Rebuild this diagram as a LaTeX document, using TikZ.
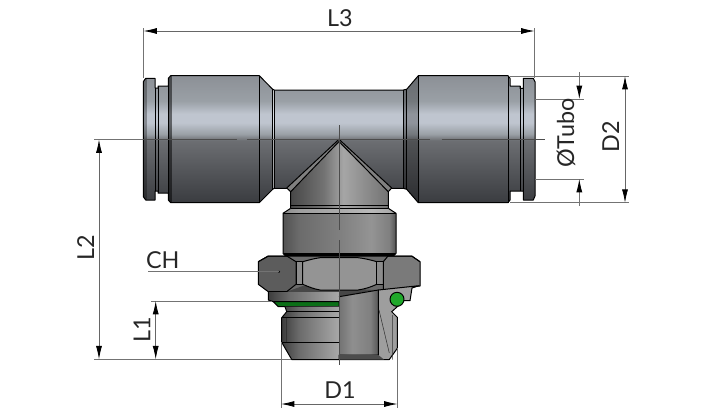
\documentclass[tikz,border=0pt]{standalone}
\usepackage{fontspec}
\setmainfont{Lato}
\usetikzlibrary{arrows.meta}
\definecolor{tubehi}{HTML}{BFC5CF}
\definecolor{tubeup}{HTML}{8C9096}
\definecolor{tubemid}{HTML}{9AA0A6}
\definecolor{tubelow}{HTML}{6C6E72}
\definecolor{tubebot}{HTML}{3A3C40}
\definecolor{ringgreen}{HTML}{1FA82A}
\definecolor{sealgreen}{HTML}{0B6F17}
\pgfdeclareverticalshading{tubeshade}{100bp}{
  color(0bp)=(tubebot); color(25bp)=(tubebot);
  color(49.5bp)=(tubelow); color(52bp)=(tubemid);
  color(56.5bp)=(tubehi); color(60bp)=(tubehi); color(65bp)=(tubemid);
  color(75bp)=(tubeup); color(100bp)=(tubeup)}
\pgfdeclarehorizontalshading{stemshade}{100bp}{
  color(0bp)=(black!68); color(25bp)=(black!68); color(32bp)=(black!58);
  color(50bp)=(black!50); color(64bp)=(black!42); color(72bp)=(black!50);
  color(75bp)=(black!68); color(100bp)=(black!68)}
\pgfdeclarehorizontalshading{coneshade}{100bp}{
  color(0bp)=(black!72); color(25bp)=(black!72); color(42bp)=(black!55);
  color(52bp)=(black!35); color(75bp)=(black!55); color(100bp)=(black!55)}
\pgfdeclarehorizontalshading{portshade}{100bp}{
  color(0bp)=(black!76); color(25bp)=(black!76); color(40bp)=(black!58);
  color(75bp)=(black!34); color(100bp)=(black!34)}
\pgfdeclarehorizontalshading{blockshade}{100bp}{
  color(0bp)=(black!55); color(25bp)=(black!55); color(42bp)=(black!44);
  color(65bp)=(black!50); color(75bp)=(black!66); color(100bp)=(black!66)}
\tikzset{
  outline/.style={draw=black,line width=0.75pt,line join=round},
  thinline/.style={draw=black!80,line width=0.4pt},
  centerline/.style={draw=black!70,line width=0.5pt},
  extline/.style={draw=black!55,line width=0.6pt},
  dimline/.style={draw=black!60,line width=0.6pt,{Latex[length=10pt,width=4.5pt,black]}-{Latex[length=10pt,width=4.5pt,black]}},
  dimtext/.style={font=\fontsize{17.5}{20}\selectfont,text=black!85,inner sep=0pt},
}
\begin{document}
\begin{tikzpicture}[x=0.75pt,y=0.75pt,yscale=-1,xscale=1]
	\useasboundingbox (0,0) rectangle (705,418);
	
	%Shape: Tee run
	\begin{scope}
		\clip (143.3,81.7) -- (145.7,78.3) -- (155,78.3) -- (155,88) -- (158,88) -- (158,86) -- (168.3,86) -- (168.3,78.3) -- (170.7,75.7) -- (259.3,75.7) -- (272.7,89.3) -- (274.3,90) -- (403.3,90) -- (406.7,89.3) -- (418.3,75.7) -- (508,75.7) -- (510,78.3) -- (510,86) -- (520,86) -- (520,88.3) -- (523.3,88.3) -- (523.3,78.3) -- (533.3,78.3) -- (535,81.7) -- (535,196) -- (533.3,200) -- (523.3,200) -- (523.3,191) -- (520,191) -- (510,191) -- (510,200) -- (508,202.7) -- (418.3,202.7) -- (406.7,189.3) -- (403.3,188.3) -- (274.3,188.3) -- (272.7,189.3) -- (259.3,202.7) -- (170.7,202.7) -- (168.3,200) -- (168.3,193) -- (158,193) -- (158,191) -- (155,191) -- (155,200) -- (145.7,200) -- (143.3,196.7) -- cycle;
		\shade[shading=tubeshade] (143,75.7) rectangle (535,202.7);
		\fill[black,opacity=0.25] (406.7,70) rectangle (418.3,210);
		\fill[white,opacity=0.45] (272.7,70) rectangle (274.3,210);
		\fill[black,opacity=0.5] (168.3,70) rectangle (171.5,210);
		\fill[black,opacity=0.3] (143.3,70) rectangle (146.7,210);
		\fill[black,opacity=0.3] (403.3,70) rectangle (406.7,210);
	\end{scope}
	\draw[outline] (143.3,81.7) -- (145.7,78.3) -- (155,78.3) -- (155,88) -- (158,88) -- (158,86) -- (168.3,86) -- (168.3,78.3) -- (170.7,75.7) -- (259.3,75.7) -- (272.7,89.3) -- (274.3,90) -- (403.3,90) -- (406.7,89.3) -- (418.3,75.7) -- (508,75.7) -- (510,78.3) -- (510,86) -- (520,86) -- (520,88.3) -- (523.3,88.3) -- (523.3,78.3) -- (533.3,78.3) -- (535,81.7) -- (535,196) -- (533.3,200) -- (523.3,200) -- (523.3,191) -- (520,191) -- (510,191) -- (510,200) -- (508,202.7) -- (418.3,202.7) -- (406.7,189.3) -- (403.3,188.3) -- (274.3,188.3) -- (272.7,189.3) -- (259.3,202.7) -- (170.7,202.7) -- (168.3,200) -- (168.3,193) -- (158,193) -- (158,191) -- (155,191) -- (155,200) -- (145.7,200) -- (143.3,196.7) -- cycle;
	%Straight Lines
	\foreach \x/\ya/\yb in {155/88/191,158/86/193,168.3/78.3/200,259.3/75.7/202.7,272.7/89.3/189.3,274.3/90/188.3,403.3/90/188.3,406.7/89.3/189.3,418.3/75.7/202.7,508.3/75.7/202.7,520/86/191,523.3/78.3/200}
		\draw[outline] (\x,\ya) -- (\x,\yb);
	
	%Shape: Cone
	\fill[black!50] (339,139.3) -- (391.7,188) -- (388.3,191.7) -- (290.7,191.7) -- (286.7,188) -- cycle;
	\shade[shading=coneshade] (339,143) -- (388.3,191.7) -- (388.3,208) -- (290.7,208) -- (290.7,191.7) -- cycle;
	\draw[outline] (286.7,188) -- (339,139.3) -- (391.7,188) (290.7,191.7) -- (339,141.5) -- (388.3,191.7);
	\draw[outline] (286.7,188) -- (290.7,191.7) -- (290.7,208) (391.7,188) -- (388.3,191.7) -- (388.3,208);
	
	%Shape: Stem
	\shade[shading=stemshade] (290.7,208.3) -- (283,213.3) -- (283,253.3) -- (285,255.5) -- (394,255.5) -- (396,253.3) -- (396,213.3) -- (388.3,208.3) -- cycle;
	\fill[white,opacity=0.35] (290.7,208.3) -- (283,213.3) -- (396,213.3) -- (388.3,208.3) -- cycle;
	\draw[outline] (290.7,205) -- (388.3,205) (290.7,208.3) -- (388.3,208.3) (283,213.3) -- (396,213.3);
	\draw[outline] (290.7,208.3) -- (283,213.3) -- (283,253.3) -- (285,255.5) -- (394,255.5) -- (396,253.3) -- (396,213.3) -- (388.3,208.3);
	\draw[outline,line width=1.5pt] (284,254) -- (395,254);
	
	%Shape: Hexagon
	\fill[black!58] (258.3,261.7) -- (268.3,256) -- (411.7,256) -- (420,261.7) -- (420,286) -- (339,296.7) -- (286.7,291.7) -- (268.3,291.7) -- (258.3,284.3) -- cycle;
	\fill[black!72] (286.7,291.7) -- (302.7,286) -- (375,290) -- (339,296.7) -- cycle;
	\draw[outline,fill=black!64] (258.3,261.7) -- (268.3,256) -- (286.7,256) -- (296,261.7) -- (296,284.3) -- (286.7,291.7) -- (268.3,291.7) -- (258.3,284.3) -- cycle;
	\draw[outline,fill=black!45] (296,261.7) -- (302.7,261.7) -- (302.7,284.3) -- (296,284.3) -- cycle;
	\draw[outline,fill=black!42] (302.7,261.7) .. controls (309,260) and (314,258.5) .. (320,257.7) -- (358,257.7) .. controls (365,258.5) and (371,260) .. (376.7,261.7) -- (376.7,284.3) .. controls (371,287) and (365,289) .. (358,290) -- (320,290) .. controls (314,289) and (309,287) .. (302.7,284.3) -- cycle;
	\draw[outline,fill=black!45] (376.7,261.7) -- (383.3,261.7) -- (383.3,284.3) -- (376.7,284.3) -- cycle;
	\draw[outline,fill=black!52] (383.3,261.7) -- (388,256) -- (411.7,256) -- (420,261.7) -- (420,286) -- (383.3,290) -- cycle;
	\draw[outline] (258.3,261.7) -- (268.3,256) -- (411.7,256) -- (420,261.7);
	
	%Shape: Port, left half
	\shade[shading=portshade] (268.3,292) -- (268.3,300) -- (273.3,301.7) -- (339,301.7) -- (339,292) -- cycle;
	\draw[outline] (268.3,292) -- (268.3,300) -- (273.3,301.7) -- (339,301.7);
	\draw[outline,fill=sealgreen] (273.3,301.7) -- (278.3,306.7) -- (339,306.7) -- (339,301.7) -- cycle;
	\shade[shading=portshade] (285,306.7) -- (286.7,311.7) -- (281.7,317.7) -- (281.7,342.3) -- (291.7,359.5) -- (339,359.5) -- (339,306.7) -- cycle;
	\draw[outline] (285,306.7) -- (286.7,311.7) -- (281.7,317.7) -- (281.7,342.3) -- (291.7,359.5) -- (339,359.5);
	\draw[outline] (286.7,311.7) -- (339,311.7) (281.7,317.7) -- (339,317.7) (281.7,342.3) -- (339,342.3);
	\draw[thinline] (286.7,317.7) -- (286.7,342.3);
	
	%Shape: Port, section
	\draw[outline,fill=black!38] (378.3,290) -- (419,285.7) -- (412,288) -- (410,300.7) -- (404,300.7) -- (391.7,311.7) -- (397.3,317.3) -- (397.3,348.3) -- (389.3,359.5) -- (339,359.5) -- (339,355) -- (378.3,355) -- cycle;
	\shade[shading=blockshade] (339,296.7) -- (378.3,290) -- (378.3,355) -- (339,355) -- cycle;
	\draw[outline] (339,296.7) -- (378.3,290) -- (378.3,355) -- (339,355);
	\fill[black!70] (339,355) -- (378.3,355) -- (384,359.5) -- (339,359.5) -- cycle;
	\draw[thinline] (379,310) -- (389.3,353) (392.3,315) -- (392.3,359.5);
	\draw[outline] (339,296.7) -- (339,360);
	%Shape: O-ring
	\draw[outline,fill=ringgreen] (397,299.3) circle (7);
	
	%Straight Lines: center lines
	\draw[centerline] (130,139.5) -- (236.7,139.5) (247,139.5) -- (430,139.5) (441.7,139.5) -- (545,139.5);
	\draw[centerline] (339,125) -- (339,230) (339,240) -- (339,365);
	\fill[black] (279,271.7) circle (1.2);
	
	%Straight Lines: extension lines
	\draw[extline] (143.5,28) -- (143.5,78) (534.5,28) -- (534.5,78);
	\draw[extline] (510,76) -- (629,76) (510,202.7) -- (629,202.7);
	\draw[extline] (535,99) -- (584,99) (535,179) -- (584,179);
	\draw[extline] (94,139.5) -- (143,139.5) (94,359.3) -- (291,359.3);
	\draw[extline] (151,301) -- (272,301) (148,271.7) -- (279,271.7);
	\draw[extline] (281,342) -- (281,408) (397.5,348) -- (397.5,408);
	
	%Straight Lines: dimensions
	\coordinate (L3a) at (143.5,31);
	\coordinate (L3b) at (534.5,31);
	\coordinate (L2a) at (99,139.5);
	\coordinate (L2b) at (99,359.3);
	\coordinate (L1a) at (155.7,301);
	\coordinate (L1b) at (155.7,359.3);
	\coordinate (D1a) at (281,404);
	\coordinate (D1b) at (397.5,404);
	\coordinate (D2a) at (625,76);
	\coordinate (D2b) at (625,202.7);
	\coordinate (Tuboa) at (579.3,99);
	\coordinate (Tubob) at (579.3,179);
	\draw[dimline] (L3a) -- (L3b);
	\draw[dimline] (L2a) -- (L2b);
	\draw[dimline] (L1a) -- (L1b);
	\draw[dimline] (D1a) -- (D1b);
	\draw[dimline] (D2a) -- (D2b);
	\draw[extline,{Latex[length=10pt,width=4.5pt,black]}-] (Tuboa) -- (579.3,72);
	\draw[extline,{Latex[length=10pt,width=4.5pt,black]}-] (Tubob) -- (579.3,206);
	
	% Text Node
	\draw (340,18) node [dimtext] (L3) {L3};
	% Text Node
	\draw (85.7,248) node [dimtext,rotate=90] (L2) {L2};
	% Text Node
	\draw (142,330) node [dimtext,rotate=90] (L1) {L1};
	% Text Node
	\draw (162.7,260) node [dimtext] (CH) {CH};
	% Text Node
	\draw (340,390) node [dimtext] (D1) {D1};
	% Text Node
	\draw (610.7,137) node [dimtext,rotate=90] (D2) {D2};
	% Text Node
	\draw (566,133) node [dimtext,rotate=90] (Tubo) {ØTubo};
	
\end{tikzpicture}
\end{document}
